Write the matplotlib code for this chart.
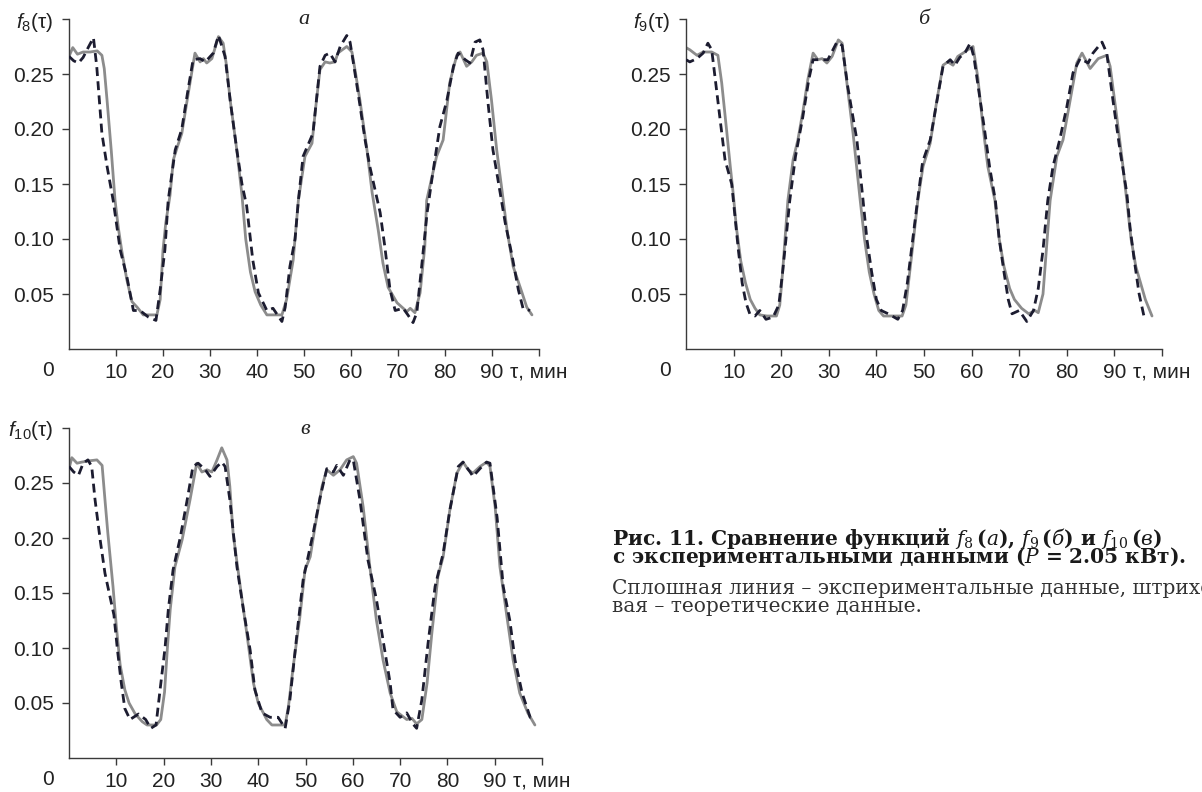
import matplotlib
matplotlib.use("Agg")
import matplotlib.pyplot as plt

plt.rcParams["mathtext.fontset"] = "custom"
plt.rcParams["mathtext.rm"] = "DejaVu Serif"
plt.rcParams["mathtext.it"] = "DejaVu Serif:italic"
plt.rcParams["mathtext.bf"] = "DejaVu Serif:bold"
plt.rcParams["mathtext.sf"] = "Liberation Sans"
plt.rcParams["mathtext.tt"] = "Liberation Sans:italic"

# ---- data: tau (min) and f values ----
# panel a, f8
a_exp_t = [0, 0.8, 1.8, 3, 4.5, 6, 7, 7.5, 8.1, 9, 9.8, 10.5, 11.2, 12.3, 13.4, 14.5, 15.8, 17.5, 18.7, 19.4,
           20, 20.6, 21.5, 22.2, 23, 24, 25.4, 26.8, 27.9, 28.6, 29.3, 30.4, 31.8, 32.8, 33.5, 34.3, 35.7, 36.8,
           37.6, 38.6, 39.6, 40.8, 42.1, 44, 45.3, 46.3, 47.7, 48.8, 50.2, 51.7, 52.5, 53.4, 54.5, 55.5, 56.6,
           57.2, 59.1, 60.2, 61, 61.9, 63.4, 64.5, 65.8, 66.8, 67.9, 69.8, 71.9, 72.6, 73.6, 74.7, 75.7, 76.1,
           78.2, 79.6, 81, 82.5, 83.2, 84.6, 85.7, 86.7, 88.1, 88.9, 89.9, 91, 92.1, 93.2, 94.5, 96.4, 97.4, 98.5]
a_exp_f = [0.266, 0.274, 0.268, 0.27, 0.27, 0.271, 0.267, 0.255, 0.226, 0.18, 0.135, 0.11, 0.09, 0.063, 0.043,
           0.038, 0.031, 0.031, 0.031, 0.045, 0.09, 0.115, 0.14, 0.172, 0.183, 0.196, 0.233, 0.269, 0.261, 0.264,
           0.26, 0.264, 0.284, 0.278, 0.258, 0.226, 0.181, 0.14, 0.1, 0.07, 0.052, 0.04, 0.031, 0.031, 0.031,
           0.045, 0.081, 0.135, 0.175, 0.187, 0.22, 0.254, 0.261, 0.26, 0.261, 0.269, 0.275, 0.27, 0.25, 0.226,
           0.181, 0.142, 0.108, 0.078, 0.056, 0.042, 0.034, 0.037, 0.033, 0.051, 0.093, 0.135, 0.175, 0.19,
           0.242, 0.267, 0.27, 0.257, 0.261, 0.267, 0.269, 0.261, 0.226, 0.181, 0.145, 0.108, 0.075, 0.051,
           0.038, 0.031]
a_th_t = [0, 1, 2, 3, 4.2, 5.2, 5.9, 7, 8.1, 9.4, 10.9, 12.3, 13.7, 15.1, 16.9, 18.5, 19.4, 20.4, 21.1, 22.6,
          24, 25.3, 26.4, 27.9, 29, 30.7, 31.8, 33.2, 34.3, 35.7, 36.8, 37.8, 39.1, 40.3, 42.1, 43.4, 45.3, 46,
          47, 48.1, 48.8, 49.8, 51.9, 53.4, 54.5, 55.5, 56.6, 57.7, 59.1, 59.8, 60.4, 61.5, 63, 64, 65.1, 66.2,
          67.2, 68.3, 69.4, 71.1, 72.1, 73.2, 74, 75.1, 76.2, 77.2, 78.9, 80.4, 81.8, 82.8, 84.3, 85.3, 86.4,
          87.4, 88.1, 89.1, 90.2, 91.5, 92.8, 94.3, 95.6, 96.6, 98.1]
a_th_f = [0.266, 0.262, 0.26, 0.265, 0.275, 0.283, 0.257, 0.196, 0.166, 0.135, 0.09, 0.066, 0.035, 0.035, 0.029,
          0.026, 0.054, 0.09, 0.135, 0.181, 0.2, 0.235, 0.263, 0.264, 0.261, 0.269, 0.285, 0.266, 0.226, 0.181,
          0.15, 0.13, 0.081, 0.051, 0.035, 0.037, 0.025, 0.038, 0.075, 0.1, 0.135, 0.175, 0.196, 0.257, 0.267,
          0.269, 0.261, 0.275, 0.285, 0.279, 0.263, 0.233, 0.19, 0.166, 0.145, 0.124, 0.093, 0.054, 0.035, 0.037,
          0.031, 0.024, 0.033, 0.078, 0.124, 0.154, 0.202, 0.226, 0.257, 0.269, 0.263, 0.26, 0.279, 0.281, 0.272,
          0.226, 0.181, 0.148, 0.115, 0.084, 0.054, 0.037, 0.035]

# panel b, f9
b_exp_t = [0, 0.8, 2.3, 3.6, 5.4, 6.7, 7.5, 8.6, 9.3, 9.9, 10.6, 11.5, 12.5, 13.5, 14.5, 15.5, 17, 19, 19.7,
           20.3, 20.8, 21.4, 22.5, 23.5, 24.6, 25.6, 26.7, 27.7, 28.6, 29.6, 30.7, 32, 32.8, 33.8, 35.1, 36.6,
           37.5, 38.5, 39.5, 40.5, 41.5, 45.4, 46.2, 47, 47.8, 48.7, 49.8, 51.3, 52.7, 54, 55, 56.1, 57.1, 58.2,
           59.2, 60.3, 61.3, 62.4, 63.4, 64.9, 65.8, 66.8, 68, 69, 70.5, 72, 73.3, 74, 75, 75.7, 76.5, 77.9,
           79.2, 80.7, 82.1, 83.2, 84.9, 86.6, 88.4, 89.1, 90.5, 91.8, 92.6, 93.5, 94.5, 95.5, 96.5, 97.9]
b_exp_f = [0.274, 0.272, 0.267, 0.27, 0.27, 0.267, 0.242, 0.196, 0.166, 0.142, 0.11, 0.08, 0.06, 0.045, 0.037,
           0.031, 0.03, 0.03, 0.04, 0.07, 0.1, 0.135, 0.172, 0.19, 0.217, 0.245, 0.269, 0.263, 0.264, 0.26,
           0.266, 0.281, 0.278, 0.242, 0.196, 0.135, 0.1, 0.07, 0.05, 0.035, 0.03, 0.03, 0.04, 0.07, 0.1, 0.135,
           0.166, 0.187, 0.226, 0.258, 0.261, 0.258, 0.266, 0.269, 0.272, 0.275, 0.247, 0.202, 0.166, 0.135,
           0.1, 0.075, 0.055, 0.045, 0.037, 0.032, 0.035, 0.033, 0.05, 0.09, 0.135, 0.175, 0.19, 0.226, 0.26,
           0.269, 0.255, 0.264, 0.267, 0.257, 0.211, 0.166, 0.135, 0.1, 0.075, 0.06, 0.045, 0.03]
b_th_t = [0, 0.8, 2.3, 3.6, 4.6, 5.4, 6.1, 7.1, 8.2, 9.6, 10.3, 11, 11.8, 12.6, 13.4, 14.5, 15.5, 16.8, 18.3,
          19.5, 20.3, 21, 21.8, 23, 24.5, 25.8, 26.7, 28.2, 29.8, 31.7, 32.8, 34, 35.9, 37.2, 38, 39, 40, 41,
          42.5, 44.5, 45.5, 46.5, 47.5, 48.5, 49.7, 51.3, 52.7, 54, 55.5, 56.5, 57.5, 58.7, 59.7, 60.5, 61.5,
          62.7, 63.8, 65, 65.8, 66.8, 67.7, 68.5, 70, 71.6, 73, 74, 75, 76, 77.1, 78.5, 80, 81.3, 82.8, 84.5,
          85.5, 87.4, 88.4, 89.7, 91.2, 92.6, 93.3, 94.2, 95.2, 96.2, 97]
b_th_f = [0.263, 0.261, 0.264, 0.269, 0.278, 0.272, 0.247, 0.211, 0.172, 0.15, 0.12, 0.09, 0.06, 0.042, 0.032,
          0.03, 0.035, 0.027, 0.029, 0.04, 0.07, 0.1, 0.135, 0.175, 0.21, 0.245, 0.263, 0.263, 0.263, 0.279,
          0.276, 0.238, 0.19, 0.135, 0.1, 0.07, 0.045, 0.035, 0.032, 0.027, 0.035, 0.06, 0.095, 0.13, 0.17,
          0.19, 0.225, 0.257, 0.263, 0.258, 0.265, 0.27, 0.278, 0.265, 0.235, 0.2, 0.165, 0.135, 0.1, 0.07,
          0.045, 0.032, 0.035, 0.025, 0.035, 0.055, 0.09, 0.135, 0.166, 0.19, 0.22, 0.251, 0.264, 0.26, 0.269,
          0.279, 0.269, 0.226, 0.18, 0.142, 0.11, 0.08, 0.05, 0.03, 0.03]

# panel v, f10
c_exp_t = [0, 0.6, 1.7, 2.7, 4, 5.9, 7, 7.6, 8.2, 9.3, 10, 10.8, 11.8, 12.7, 14, 15.5, 16.5, 18.5, 19.4, 20.2,
           20.8, 21.4, 22.4, 23.9, 25.6, 27, 28.1, 29.2, 30.2, 31.3, 32.3, 33.4, 34, 34.7, 36.2, 37.6, 39, 40,
           41.8, 42.9, 45.7, 46.4, 47.4, 48.8, 49.9, 51, 52, 53.5, 54.5, 55.9, 57.3, 58.7, 60.1, 60.8, 62.2,
           63.6, 65, 66.4, 67.9, 69.3, 71.4, 72.5, 73.5, 74.6, 75.7, 76.7, 78, 79.1, 80.5, 82, 83.3, 84.4, 85.4,
           86.9, 88.3, 89, 90.1, 91.1, 92.6, 93.9, 95.3, 97, 98.5]
c_exp_f = [0.263, 0.273, 0.268, 0.269, 0.27, 0.271, 0.266, 0.235, 0.205, 0.156, 0.12, 0.085, 0.062, 0.05, 0.04,
           0.033, 0.03, 0.03, 0.035, 0.06, 0.1, 0.135, 0.174, 0.198, 0.235, 0.268, 0.26, 0.262, 0.26, 0.271,
           0.282, 0.271, 0.247, 0.204, 0.156, 0.113, 0.068, 0.05, 0.035, 0.03, 0.03, 0.047, 0.083, 0.128, 0.171,
           0.183, 0.21, 0.247, 0.262, 0.257, 0.262, 0.271, 0.274, 0.268, 0.228, 0.174, 0.125, 0.089, 0.059,
           0.042, 0.035, 0.036, 0.031, 0.035, 0.068, 0.113, 0.165, 0.183, 0.225, 0.259, 0.269, 0.262, 0.259,
           0.265, 0.269, 0.265, 0.228, 0.174, 0.128, 0.089, 0.059, 0.041, 0.03]
c_th_t = [0, 1, 2, 3, 4, 4.8, 5.5, 6.6, 7.6, 8.7, 9.5, 10.2, 11, 11.8, 12.9, 14.7, 16.2, 17.3, 18.4, 19.2, 20.3,
          21, 22, 23.5, 25, 26.2, 27.3, 28.8, 29.8, 31.3, 32.3, 33, 34, 35.5, 36.8, 38.3, 39.3, 40.8, 42.5, 44.2,
          45.7, 46.7, 48.2, 49.5, 51.6, 53.1, 54.5, 55.9, 56.6, 58, 59.4, 60.1, 61.5, 63.2, 65, 66.4, 67.9, 68.5,
          70, 71.4, 72.7, 73.5, 74.6, 75.9, 77.4, 79.1, 80.5, 82.3, 83.3, 84.8, 85.4, 87.3, 88.3, 89, 90.5, 91.8,
          93.2, 94.3, 95.8, 97.5, 98.1]
c_th_f = [0.265, 0.26, 0.257, 0.268, 0.271, 0.265, 0.235, 0.198, 0.168, 0.146, 0.13, 0.1, 0.07, 0.045, 0.035,
          0.04, 0.035, 0.027, 0.03, 0.06, 0.1, 0.135, 0.171, 0.2, 0.235, 0.265, 0.268, 0.262, 0.256, 0.265,
          0.269, 0.265, 0.235, 0.174, 0.137, 0.098, 0.062, 0.041, 0.037, 0.037, 0.027, 0.053, 0.113, 0.162,
          0.204, 0.237, 0.263, 0.26, 0.266, 0.257, 0.271, 0.271, 0.235, 0.18, 0.144, 0.107, 0.068, 0.044, 0.037,
          0.041, 0.031, 0.027, 0.053, 0.104, 0.156, 0.186, 0.225, 0.265, 0.269, 0.26, 0.256, 0.265, 0.269,
          0.268, 0.219, 0.156, 0.125, 0.089, 0.059, 0.037, 0.037]

x_ticks = [10, 20, 30, 40, 50, 60, 70, 80, 90, 100]
x_labels = ["10", "20", "30", "40", "50", "60", "70", "80", "90", "τ, мин"]
y_ticks = [0.05, 0.10, 0.15, 0.20, 0.25, 0.30]
y_labels = ["0.05", "0.10", "0.15", "0.20", "0.25"]

SANS = "Liberation Sans"
SERIF = "DejaVu Serif"
AX_COLOR = "#3a3a3a"
EXP_COLOR = "#8c8c8c"
TH_COLOR = "#1c1c30"

W, H = 1202, 792
fig = plt.figure(figsize=(W / 100, H / 100), dpi=100)


def make_axes(left, top, right, bottom):
    return fig.add_axes([left / W, 1 - bottom / H, (right - left) / W, (bottom - top) / H])


def draw_panel(ax, t_exp, f_exp, t_th, f_th, fname, letter):
    ax.plot(t_exp, f_exp, color=EXP_COLOR, lw=2.0, solid_capstyle="round", zorder=2)
    ax.plot(t_th, f_th, color=TH_COLOR, lw=2.0, dashes=(3.2, 1.9), zorder=3)
    ax.set_xlim(0, 100)
    ax.set_ylim(0, 0.3)
    for s in ["top", "right"]:
        ax.spines[s].set_visible(False)
    for s in ["left", "bottom"]:
        ax.spines[s].set_color(AX_COLOR)
        ax.spines[s].set_linewidth(1.0)
    ax.set_xticks(x_ticks)
    ax.set_xticklabels(x_labels)
    ax.set_yticks(y_ticks)
    ax.set_yticklabels(y_labels + [r"$\mathtt{f}_{\mathsf{%s}}$(τ)" % fname])
    ax.tick_params(axis="both", direction="out", length=5, width=1.0, color=AX_COLOR,
                   labelsize=15, labelcolor="#222222")
    ax.tick_params(axis="x", pad=5)
    ax.tick_params(axis="y", pad=6)
    for lab in ax.get_xticklabels() + ax.get_yticklabels():
        lab.set_fontfamily(SANS)
    # origin label below the corner
    ax.annotate("0", xy=(0, 0), xycoords="axes fraction", xytext=(-15, -15.5),
                textcoords="offset points", ha="center", va="center",
                fontsize=15, family=SANS, color="#222222")
    ax.text(50, 0.295, letter, ha="center", va="baseline", fontsize=16,
            family="Liberation Serif", style="italic", color="#222222")


ax_a = make_axes(69, 19, 539, 349)
draw_panel(ax_a, a_exp_t, a_exp_f, a_th_t, a_th_f, "8", "а")

ax_b = make_axes(686, 19, 1162, 349)
draw_panel(ax_b, b_exp_t, b_exp_f, b_th_t, b_th_f, "9", "б")

ax_c = make_axes(69, 428, 542, 758)
draw_panel(ax_c, c_exp_t, c_exp_f, c_th_t, c_th_f, "10", "в")

cap_x = 612 / W
bold_caption = ("Рис. 11. Сравнение функций "
                r"$\mathit{f}_{\mathrm{8}}\,\mathbf{(}\mathit{a}\mathbf{)}$, "
                r"$\mathit{f}_{\mathrm{9}}\,\mathbf{(}\mathit{б}\mathbf{)}$ и "
                r"$\mathit{f}_{\mathrm{10}}\,\mathbf{(}\mathit{в}\mathbf{)}$"
                "\nс экспериментальными данными (" + r"$\mathit{P}$" + " = 2.05 кВт).")
note = "Сплошная линия – экспериментальные данные, штрихо-\nвая – теоретические данные."
fig.text(cap_x, 1 - 526 / H, bold_caption, fontsize=14.5, family=SERIF, weight="bold",
         color="#1a1a1a", va="top", ha="left", linespacing=0.65)
fig.text(cap_x, 1 - 579 / H, note, fontsize=14.5, family=SERIF, color="#333333",
         va="top", ha="left", linespacing=0.94)

fig.savefig("out.png", dpi=100)
